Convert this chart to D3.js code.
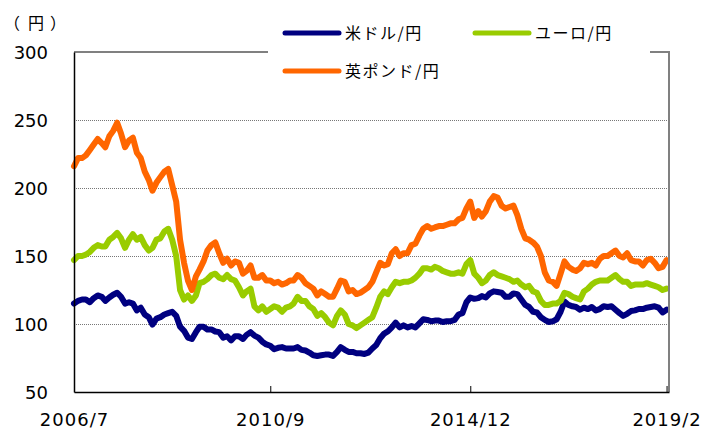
<!DOCTYPE html>
<html>
<head>
<meta charset="utf-8">
<script src="https://cdn.jsdelivr.net/npm/d3@7"></script>
<style>
  body { margin: 0; background: #fff; }
  svg { display: block; }
</style>
</head>
<body>
<svg id="chart" width="716" height="430"></svg>
<script>
// monthly, 2006/7 .. 2019/2
var firstMonth = new Date(2006, 6, 1),
    lastMonth = new Date(2019, 1, 1);

var usdJpy = [
  115, 117, 118, 118, 116, 119,
  121, 120, 117, 119.5, 121.5, 123, 120, 115, 116, 115, 110, 112,
  107, 105, 99.5, 104, 105, 107, 108, 109, 106, 98, 95, 90,
  89, 94, 98, 98, 96, 96, 94.5, 94, 90, 91, 88, 91,
  91, 89, 92, 94, 91.5, 90, 87, 85, 84, 81.5, 82.5, 83,
  82, 82, 82, 83, 81, 80.5, 79, 77, 76.5, 77, 77.5, 77.5,
  76.5, 79.5, 83, 81, 79.5, 79.5, 78.5, 78.5, 78, 79, 82, 84.5,
  89.5, 93, 94.5, 97.5, 101, 97.5, 99, 97.5, 98.5, 97.5, 100.5, 103.5,
  103, 102, 102.5, 102.5, 101.5, 102, 102, 103, 107, 108, 116, 119.5,
  118.5, 119, 120.5, 119.5, 122.5, 124, 123.5, 123, 120, 120, 122.5, 122,
  118, 114, 112.5, 109, 108.5, 105, 103, 101.5, 102, 103.5, 109, 116.5,
  114, 113, 112.5, 110.5, 112, 111, 112.5, 110, 111, 113, 112.5, 113,
  110.5, 108, 106, 107.5, 109.5, 110, 111, 111, 112, 112.5, 113, 112,
  108.5, 110.5
];

var eurJpy = [
  147, 150, 150, 151, 153, 156,
  158, 157, 157, 162, 164, 167, 163, 156, 162, 166, 162, 164,
  158, 154, 156, 162, 163, 168, 170, 162, 150, 125, 118, 121,
  117, 121, 130, 131, 133, 136, 137, 134, 133, 136, 133, 132,
  127, 121, 124, 126, 113, 110, 113, 109, 111, 113, 112, 109,
  112, 113, 115, 120, 117, 117, 113, 111, 106, 108, 105, 101,
  99, 106, 110, 107, 100, 99, 97, 99, 101, 103, 105, 112,
  120, 124, 122, 127, 131, 130, 131, 131, 132, 134, 137, 141,
  141, 140, 142, 141, 139, 138, 137, 137, 138, 137, 144, 147,
  137, 134, 130, 132, 136, 138, 136, 135, 134, 133, 131, 132,
  129, 127, 128, 124, 123, 117, 114, 114, 115, 115, 117, 123,
  122, 120, 119, 118, 124, 126, 129, 131, 132, 132, 132, 134,
  136, 133, 131, 131, 128, 129, 129, 129, 130, 129, 128, 127,
  125, 126
];

var gbpJpy = [
  216, 222, 222, 224, 228, 232,
  236, 233, 230, 238, 242, 248, 240, 230, 235, 237, 226, 222,
  212, 206, 198, 204, 208, 212, 214, 202, 190, 162, 145, 132,
  125, 135, 140, 146, 154, 158, 160, 152, 145, 148, 143, 146,
  145, 137, 139, 143, 134, 134, 136, 132, 132, 130, 131, 129,
  130, 132, 132, 136, 134, 130, 128, 126, 121, 124, 122, 120,
  120, 126, 132, 131, 124, 125, 122, 123, 125, 127, 131, 138,
  145, 143, 144, 152, 155, 150, 152, 152, 158, 159, 165, 170,
  172, 170, 171, 172, 172, 173, 174, 174, 177, 178, 185, 190,
  178, 183, 179, 183, 190, 194, 193, 187, 185, 186, 187, 180,
  170, 163, 162, 160, 157, 150, 138, 132, 131, 128, 137, 146,
  142, 140, 139, 141, 145, 144, 145, 143, 148, 150, 150, 152,
  154, 150, 149, 152, 147, 146, 146, 143, 147, 148, 145, 141,
  142, 147
];

var seriesNames = ['米ドル/円', 'ユーロ/円', '英ポンド/円'];
var seriesColors = ['#000080', '#99cc00', '#ff6600'];
var yTicks = [50, 100, 150, 200, 250, 300];
var xTickDates = [new Date(2006, 6, 1), new Date(2010, 8, 1), new Date(2014, 11, 1), new Date(2019, 1, 1)];
var xTickLabels = ['2006/7', '2010/9', '2014/12', '2019/2'];

(function draw() {
    var months = d3.timeMonth.range(firstMonth, d3.timeMonth.offset(lastMonth, 1));
    var allSeries = [usdJpy, eurJpy, gbpJpy];

    var plotLeft = 74, plotRight = 669, plotTop = 52, plotBottom = 392;

    var svg = d3.select('#chart');

    var x = d3.scaleTime()
        .domain([firstMonth, new Date(2019, 1, 20)])
        .range([plotLeft, plotRight]);
    var y = d3.scaleLinear()
        .domain([50, 300])
        .range([plotBottom, plotTop]);

    // dotted grid
    svg.append('g')
        .selectAll('line')
        .data(yTicks.filter(function(d){ return d > 50 && d < 300; }))
        .enter().append('line')
        .attr('x1', plotLeft).attr('x2', plotRight)
        .attr('y1', function(d){ return y(d) + 0.5; })
        .attr('y2', function(d){ return y(d) + 0.5; })
        .attr('stroke', '#777')
        .attr('stroke-width', 1)
        .attr('stroke-dasharray', '1,1');

    // series
    var line = d3.line()
        .x(function(d, i){ return x(months[i]); })
        .y(function(d){ return y(d); });

    svg.append('g')
        .selectAll('path')
        .data(allSeries)
        .enter().append('path')
        .attr('d', line)
        .attr('fill', 'none')
        .attr('stroke', function(d, i){ return seriesColors[i]; })
        .attr('stroke-width', 6)
        .attr('stroke-linejoin', 'round')
        .attr('stroke-linecap', 'round');

    // frame: top / right gray, left / bottom black
    svg.append('line')
        .attr('x1', plotLeft).attr('x2', plotRight)
        .attr('y1', plotTop).attr('y2', plotTop)
        .attr('stroke', '#808080').attr('stroke-width', 2);
    svg.append('line')
        .attr('x1', plotRight).attr('x2', plotRight)
        .attr('y1', plotTop - 1).attr('y2', plotBottom)
        .attr('stroke', '#808080').attr('stroke-width', 2);

    var xAxis = d3.axisBottom(x)
        .tickValues(xTickDates)
        .tickSizeInner(-6)
        .tickSizeOuter(0)
        .tickFormat(function(d, i){ return xTickLabels[i]; });

    var gx = svg.append('g')
        .attr('transform', 'translate(0,' + plotBottom + ')')
        .call(xAxis);
    gx.select('.domain').attr('stroke', '#000').attr('stroke-width', 1.5);
    gx.selectAll('.tick line').attr('stroke', '#000');
    gx.selectAll('.tick text')
        .attr('y', 34)
        .attr('dy', 0)
        .attr('fill', '#000')
        .style('font-family', 'DejaVu Sans, sans-serif')
        .style('font-size', '18px')
        .style('letter-spacing', '1px');

    var yAxis = d3.axisLeft(y)
        .tickValues(yTicks)
        .tickSize(0)
        .tickPadding(0);

    var gy = svg.append('g')
        .attr('transform', 'translate(' + plotLeft + ',0)')
        .call(yAxis);
    gy.select('.domain').attr('stroke', '#000').attr('stroke-width', 1.5);
    gy.selectAll('.tick text')
        .attr('x', -26)
        .attr('dy', '0.36em')
        .attr('fill', '#000')
        .style('font-family', 'DejaVu Sans, sans-serif')
        .style('font-size', '18px');

    // unit （円）, parens spread out like the original
    var unit = svg.append('text')
        .attr('y', 29)
        .attr('fill', '#000')
        .style('font-family', '"Noto Sans CJK JP", sans-serif')
        .style('font-size', '16px');
    unit.append('tspan').attr('x', 4).text('（');
    unit.append('tspan').attr('x', 28).text('円');
    unit.append('tspan').attr('x', 50).text('）');

    // legend
    var legendItems = [
      {name: seriesNames[0], color: seriesColors[0], lx: 285, ly: 33},
      {name: seriesNames[1], color: seriesColors[1], lx: 475, ly: 33},
      {name: seriesNames[2], color: seriesColors[2], lx: 285, ly: 71}
    ];

    var legend = svg.append('g').attr('class', 'legend');
    legend.append('rect')
        .attr('x', 268).attr('y', 12)
        .attr('width', 382).attr('height', 78)
        .attr('fill', '#fff');

    var entry = legend.selectAll('g.entry')
        .data(legendItems).enter()
        .append('g').attr('class', 'entry');
    entry.append('line')
        .attr('x1', function(d){ return d.lx; })
        .attr('x2', function(d){ return d.lx + 54; })
        .attr('y1', function(d){ return d.ly; })
        .attr('y2', function(d){ return d.ly; })
        .attr('stroke', function(d){ return d.color; })
        .attr('stroke-width', 5)
        .attr('stroke-linecap', 'round');
    entry.append('text')
        .attr('x', function(d){ return d.lx + 60; })
        .attr('y', function(d){ return d.ly; })
        .attr('dy', '0.36em')
        .text(function(d){ return d.name; })
        .attr('fill', '#000')
        .style('font-family', '"Noto Sans CJK JP", sans-serif')
        .style('font-size', '16px')
        .style('letter-spacing', '1.5px');
})();
</script>
</body>
</html>
